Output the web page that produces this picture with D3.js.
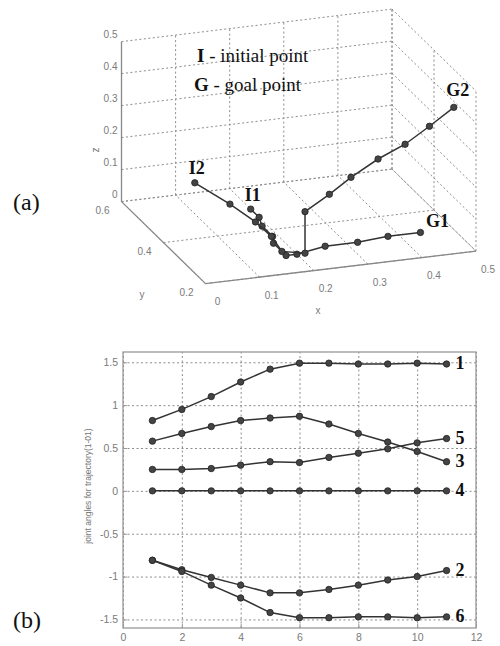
<!DOCTYPE html>
<html>
<head>
<meta charset="utf-8">
<script src="https://cdn.jsdelivr.net/npm/d3@7"></script>
<style>
body { margin: 0; background: #fff; }
text { font-family: "Liberation Sans", Arial, sans-serif; }
.serif { font-family: "Liberation Serif", "Times New Roman", serif; }
</style>
</head>
<body>
<svg id="chart" width="500" height="646"></svg>
<script>
// ---- (b) joint angles, one value per step ----
const steps = [1, 2, 3, 4, 5, 6, 7, 8, 9, 10, 11];
const joint1 = [0.82, 0.95, 1.10, 1.27, 1.42, 1.49, 1.49, 1.48, 1.48, 1.49, 1.48];
const joint2 = [-0.81, -0.92, -1.01, -1.10, -1.19, -1.19, -1.15, -1.10, -1.04, -1.00, -0.93];
const joint3 = [0.58, 0.67, 0.75, 0.82, 0.85, 0.87, 0.78, 0.67, 0.57, 0.46, 0.34];
const joint4 = [0, 0, 0, 0, 0, 0, 0, 0, 0, 0, 0];
const joint5 = [0.25, 0.25, 0.26, 0.30, 0.34, 0.33, 0.39, 0.44, 0.49, 0.56, 0.61];
const joint6 = [-0.81, -0.94, -1.10, -1.25, -1.42, -1.48, -1.48, -1.47, -1.47, -1.48, -1.47];
const jointNames = ["1", "2", "3", "4", "5", "6"];
const xTicksB = [0, 2, 4, 6, 8, 10, 12];
const yTicksB = [-1.5, -1, -0.5, 0, 0.5, 1, 1.5];

// ---- (a) trajectories in x, y, z ----
const traj1X = [0.20, 0.20, 0.19, 0.19, 0.18, 0.18, 0.20, 0.26, 0.32, 0.38, 0.44];
const traj1Y = [0.50, 0.46, 0.42, 0.37, 0.34, 0.28, 0.28, 0.30, 0.30, 0.31, 0.31];
const traj1Z = [0, 0, 0, 0, 0, 0, 0, 0, 0, 0, 0];
const traj2X = [0.12, 0.15, 0.17, 0.18, 0.18, 0.215, 0.215, 0.26, 0.30, 0.35, 0.40, 0.445, 0.49];
const traj2Y = [0.56, 0.47, 0.40, 0.35, 0.30, 0.28, 0.28, 0.28, 0.28, 0.28, 0.28, 0.28, 0.28];
const traj2Z = [0.06, 0.045, 0.03, 0.015, 0, 0, 0.13, 0.175, 0.22, 0.267, 0.303, 0.35, 0.40];
const xTicks3 = [0, 0.1, 0.2, 0.3, 0.4, 0.5];
const yTicks3 = [0.2, 0.4, 0.6];
const zTicks3 = [0, 0.1, 0.2, 0.3, 0.4, 0.5];

const svg = d3.select("#chart");
const ink = "#333", gridCol = "#8c8c8c", tickCol = "#7a7a7a";

// ================= (a) 3D plot =================
const xs3 = d3.scaleLinear().domain([0, 0.5]).range([0, 1]);
const ys3 = d3.scaleLinear().domain([0.2, 0.6]).range([0, 1]);
const zs3 = d3.scaleLinear().domain([0, 0.5]).range([0, 160]);
const origin = [205.5, 283.6], ex = [270.5, -32.5], ey = [-84, -82];

function proj(x, y, z) {
    const u = xs3(x), v = ys3(y);
    return [origin[0] + u * ex[0] + v * ey[0], origin[1] + u * ex[1] + v * ey[1] - zs3(z)];
}

const line3 = d3.line();
const a = svg.append("g");

// grid on the back wall, right wall and floor
const gridSegs = [];
xTicks3.forEach(x => {
    gridSegs.push([[x, 0.6, 0], [x, 0.6, 0.5]]);
    gridSegs.push([[x, 0.2, 0], [x, 0.6, 0]]);
});
yTicks3.forEach(y => {
    gridSegs.push([[0.5, y, 0], [0.5, y, 0.5]]);
    gridSegs.push([[0, y, 0], [0.5, y, 0]]);
});
zTicks3.forEach(z => {
    gridSegs.push([[0, 0.6, z], [0.5, 0.6, z]]);
    gridSegs.push([[0.5, 0.6, z], [0.5, 0.2, z]]);
});

a.append("g")
    .selectAll("path")
    .data(gridSegs)
    .enter()
    .append("path")
    .attr("d", d => line3(d.map(p => proj(...p))))
    .attr("fill", "none")
    .attr("stroke", gridCol)
    .attr("stroke-width", 1)
    .attr("stroke-dasharray", "2,2.5");

// solid axes
const axisSegs = [
    [[0, 0.2, 0], [0.5, 0.2, 0]],
    [[0, 0.2, 0], [0, 0.6, 0]],
    [[0, 0.6, 0], [0, 0.6, 0.5]]
];
a.append("g")
    .selectAll("path")
    .data(axisSegs)
    .enter()
    .append("path")
    .attr("d", d => line3(d.map(p => proj(...p))))
    .attr("fill", "none")
    .attr("stroke", "#888")
    .attr("stroke-width", 1.3);

// tick labels
a.append("g")
    .selectAll("text")
    .data(xTicks3)
    .enter()
    .append("text")
    .attr("x", d => proj(d, 0.2, 0)[0] + 12)
    .attr("y", d => proj(d, 0.2, 0)[1] + 19)
    .attr("text-anchor", "middle")
    .attr("dominant-baseline", "middle")
    .attr("font-size", 10)
    .attr("fill", tickCol)
    .text(d => String(d));

a.append("g")
    .selectAll("text")
    .data(yTicks3)
    .enter()
    .append("text")
    .attr("x", d => proj(0, d, 0)[0] - 19)
    .attr("y", d => proj(0, d, 0)[1] + 10)
    .attr("text-anchor", "middle")
    .attr("dominant-baseline", "middle")
    .attr("font-size", 10)
    .attr("fill", tickCol)
    .text(d => String(d));

a.append("g")
    .selectAll("text")
    .data(zTicks3)
    .enter()
    .append("text")
    .attr("x", d => proj(0, 0.6, d)[0] - 4)
    .attr("y", d => proj(0, 0.6, d)[1] - 6)
    .attr("text-anchor", "end")
    .attr("dominant-baseline", "middle")
    .attr("font-size", 10)
    .attr("fill", tickCol)
    .text(d => String(d));

a.append("text").attr("x", 318).attr("y", 314).attr("text-anchor", "middle")
    .attr("font-size", 10).attr("fill", tickCol).text("x");
a.append("text").attr("x", 142).attr("y", 298).attr("text-anchor", "middle")
    .attr("font-size", 10).attr("fill", tickCol).text("y");
a.append("text").attr("transform", "translate(99,150) rotate(-90)").attr("text-anchor", "middle")
    .attr("font-size", 10).attr("fill", tickCol).text("z");

// trajectories
const trajectories = [
    { name: "1", pts: traj1X.map((x, i) => [x, traj1Y[i], traj1Z[i]]) },
    { name: "2", pts: traj2X.map((x, i) => [x, traj2Y[i], traj2Z[i]]) }
];

trajectories.forEach(t => {
    const scr = t.pts.map(p => proj(...p));
    a.append("path")
        .attr("d", line3(scr))
        .attr("fill", "none")
        .attr("stroke", ink)
        .attr("stroke-width", 1.5);
    a.append("g")
        .selectAll("circle")
        .data(scr)
        .enter()
        .append("circle")
        .attr("cx", d => d[0])
        .attr("cy", d => d[1])
        .attr("r", 3.2)
        .attr("fill", "#444")
        .attr("stroke", "#222")
        .attr("stroke-width", 0.8);
});

// start / goal labels
const endLabels = [
    { text: "I1", p: trajectories[0].pts[0], dx: 2, dy: -12 },
    { text: "G1", p: trajectories[0].pts[traj1X.length - 1], dx: 17, dy: -10 },
    { text: "I2", p: trajectories[1].pts[0], dx: 2, dy: -13 },
    { text: "G2", p: trajectories[1].pts[traj2X.length - 1], dx: 4, dy: -15 }
];
a.append("g")
    .selectAll("text")
    .data(endLabels)
    .enter()
    .append("text")
    .attr("class", "serif")
    .attr("x", d => proj(...d.p)[0] + d.dx)
    .attr("y", d => proj(...d.p)[1] + d.dy)
    .attr("text-anchor", "middle")
    .attr("dominant-baseline", "middle")
    .attr("font-size", 18)
    .attr("font-weight", "bold")
    .attr("fill", "#111")
    .text(d => d.text);

const note1 = a.append("text").attr("class", "serif").attr("x", 197).attr("y", 62)
    .attr("font-size", 19).attr("fill", "#111");
note1.append("tspan").attr("font-weight", "bold").text("I");
note1.append("tspan").text(" - initial point");
const note2 = a.append("text").attr("class", "serif").attr("x", 194).attr("y", 91)
    .attr("font-size", 19).attr("fill", "#111");
note2.append("tspan").attr("font-weight", "bold").text("G");
note2.append("tspan").text(" - goal point");

svg.append("text").attr("class", "serif").attr("x", 13).attr("y", 210)
    .attr("font-size", 24).attr("fill", "#111").text("(a)");

// ================= (b) joint angle plot =================
const x = d3.scaleLinear().domain([0, 12]).range([123, 476]);
const y = d3.scaleLinear().domain([-1.6, 1.62]).range([628, 352]);
const b = svg.append("g");

b.append("g")
    .attr("transform", "translate(0,628)")
    .call(d3.axisBottom(x).tickValues(xTicksB).tickSize(-276).tickFormat(""))
    .call(g => g.select(".domain").remove())
    .selectAll("line")
    .attr("stroke", gridCol)
    .attr("stroke-width", 1)
    .attr("stroke-dasharray", "2,2.5");

b.append("g")
    .attr("transform", "translate(123,0)")
    .call(d3.axisLeft(y).tickValues(yTicksB).tickSize(-353).tickFormat(""))
    .call(g => g.select(".domain").remove())
    .selectAll("line")
    .attr("stroke", gridCol)
    .attr("stroke-width", 1)
    .attr("stroke-dasharray", "2,2.5");

b.append("rect")
    .attr("x", 123).attr("y", 352).attr("width", 353).attr("height", 276)
    .attr("fill", "none").attr("stroke", "#999").attr("stroke-width", 1.3);

b.append("g")
    .attr("transform", "translate(0,628)")
    .call(d3.axisBottom(x).tickValues(xTicksB).tickSize(-4).tickPadding(6).tickFormat(d => String(d)))
    .call(g => g.select(".domain").remove())
    .call(g => g.selectAll("line").attr("stroke", "#999"))
    .selectAll("text")
    .attr("font-size", 10.5)
    .attr("fill", tickCol);

b.append("g")
    .attr("transform", "translate(123,0)")
    .call(d3.axisLeft(y).tickValues(yTicksB).tickSize(-4).tickPadding(5).tickFormat(d => String(d)))
    .call(g => g.select(".domain").remove())
    .call(g => g.selectAll("line").attr("stroke", "#999"))
    .selectAll("text")
    .attr("font-size", 10.5)
    .attr("fill", tickCol);

b.append("text")
    .attr("transform", "translate(91,486) rotate(-90)")
    .attr("text-anchor", "middle")
    .attr("font-size", 8.5)
    .attr("fill", "#777")
    .text("joint angles for trajectory(1-01)");

const joints = [joint1, joint2, joint3, joint4, joint5, joint6];
const lineB = d3.line().x((d, i) => x(steps[i])).y(d => y(d));

joints.forEach((vals, j) => {
    b.append("path")
        .attr("d", lineB(vals))
        .attr("fill", "none")
        .attr("stroke", ink)
        .attr("stroke-width", 1.5);
    b.append("g")
        .selectAll("circle")
        .data(vals)
        .enter()
        .append("circle")
        .attr("cx", (d, i) => x(steps[i]))
        .attr("cy", d => y(d))
        .attr("r", 3.2)
        .attr("fill", "#444")
        .attr("stroke", "#222")
        .attr("stroke-width", 0.8);
    b.append("text")
        .attr("class", "serif")
        .attr("x", x(steps[steps.length - 1]) + 9)
        .attr("y", y(vals[vals.length - 1]) + 1)
        .attr("dominant-baseline", "middle")
        .attr("font-size", 18)
        .attr("font-weight", "bold")
        .attr("fill", "#111")
        .text(jointNames[j]);
});

svg.append("text").attr("class", "serif").attr("x", 13).attr("y", 628)
    .attr("font-size", 24).attr("fill", "#111").text("(b)");
</script>
</body>
</html>
